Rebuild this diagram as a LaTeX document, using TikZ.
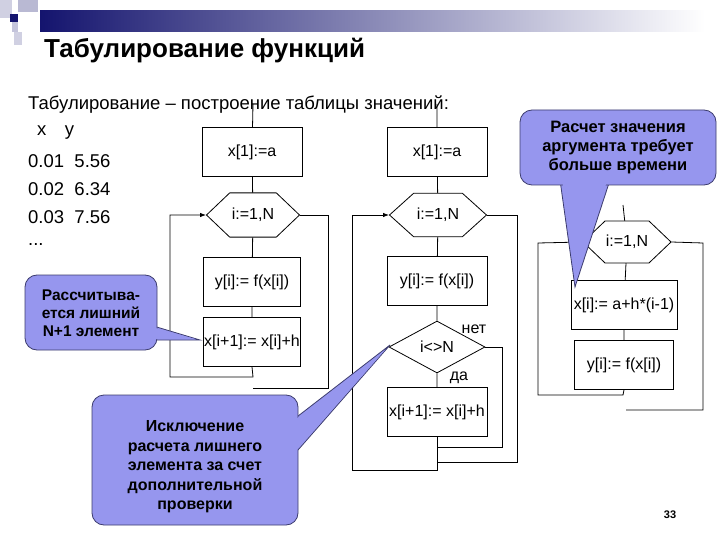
\documentclass[tikz,border=0pt]{standalone}
\usepackage{fontspec}
\setmainfont{Liberation Sans}
\usetikzlibrary{shapes.geometric,arrows.meta}
\definecolor{callfill}{RGB}{150,150,238}
\definecolor{callline}{RGB}{60,60,110}
\definecolor{navy}{RGB}{20,20,110}
\begin{document}
\begin{tikzpicture}[x=1pt,y=-1pt,
  ff/.style={font=\fontsize{16}{18}\selectfont},
  blk/.style={draw,line width=0.8pt,minimum width=100pt,minimum height=49pt,inner sep=1pt,ff},
  hex/.style={draw,line width=0.8pt,regular polygon,regular polygon sides=6,shape aspect=1,inner sep=0pt},
  dia/.style={draw,line width=0.8pt,diamond,aspect=1.9,minimum width=96pt,minimum height=52pt,inner sep=0pt},
  ln/.style={line width=0.8pt},
  body/.style={font=\fontsize{18.5}{21}\selectfont,inner sep=0pt,anchor=west},
  ctext/.style={align=center,text=black}]
\fill[white] (0,0) rectangle (720,540);
% header decoration
\shade[left color=navy,right color=white] (40,11) rectangle (705,32);
\fill[navy!20] (0,0) rectangle (12,18);
\fill[navy!30] (18,0) rectangle (38,12);
\fill[navy!25] (12,18) rectangle (18,32);
\fill[navy!20] (14,32) rectangle (22,45);
\fill[navy] (10,14) rectangle (18,22);
\node[anchor=west,font=\fontsize{26}{28}\selectfont\bfseries,inner sep=0pt] (title) at (44,51) {Табулирование функций};
% left text
\node[body] (t0) at (28,105) {Табулирование -- построение таблицы значений:};
\node[body] (t1) at (37,133) {x\quad y};
\node[body] (t2) at (28,161) {0.01\ \ 5.56};
\node[body] (t3) at (28,189) {0.02\ \ 6.34};
\node[body] (t4) at (28,217) {0.03\ \ 7.56};
\node[body] (t5) at (28,245) {...};
% flowchart 1
\coordinate (a0) at (253,104);
\node[blk] (a1) at (252,152) {x[1]:=a};
\node[hex,minimum width=93pt,yscale=0.55] (a2) at (253,215) {};
\node[ff] (a2t) at (253,215) {i:=1,N};
\node[blk,minimum width=97pt] (a3) at (252,282) {y[i]:= f(x[i])};
\node[blk,minimum width=97pt] (a4) at (252,342) {x[i+1]:= x[i]+h};
\draw[ln] (a0)--(a1)--(a2)--(a3)--(a4);
\coordinate (a5) at (253,377);
\draw[ln,-{Latex[length=6pt]}] (a4.south)--(a5)--(170,377)--(170,215)--(a2.west);
\draw[ln] (a2.east)--(328,215)--(328,388)--(253,388);
% flowchart 2
\coordinate (b0) at (437,104);
\node[blk] (b1) at (437,152) {x[1]:=a};
\node[hex,minimum width=97pt,yscale=0.52] (b2) at (438,215) {};
\node[ff] (b2t) at (438,215) {i:=1,N};
\node[blk] (b3) at (437,281) {y[i]:= f(x[i])};
\node[dia] (b4) at (437,347) {};
\node[ff] (b4t) at (437,347) {i<>N};
\node[blk] (b5) at (437,412) {x[i+1]:= x[i]+h};
\draw[ln] (b0)--(b1)--(b2)--(b3)--(b4)--(b5);
\node[ff] (net) at (474,329) {нет};
\node[ff] (da) at (459,378) {да};
\draw[ln] (b4.east)--(502,347)--(502,447)--(437,447)--(b5.south);
\draw[ln,-{Latex[length=6pt]}] (437,447)--(437,470)--(352,470)--(352,215)--(b2.west);
\draw[ln] (b2.east)--(517,215)--(517,462)--(437,462);
% flowchart 3
\coordinate (c0) at (623,205);
\node[hex,minimum width=88pt,yscale=0.55] (c1) at (627,242) {};
\node[ff] (c1t) at (627,242) {i:=1,N};
\node[blk,minimum width=106pt] (c2) at (624,305) {x[i]:= a+h*(i-1)};
\node[blk,minimum width=99pt] (c3) at (624,365) {y[i]:= f(x[i])};
\draw[ln] (c0)--(c1)--(c2)--(c3);
\draw[ln] (c3.south)--(623,395)--(538,395)--(538,243)--(c1.west);
\draw[ln] (c1.east)--(703,243)--(703,410)--(626,410);
% callouts
\newcommand\callout[3]{%
  \filldraw[fill=callfill,draw=callline,line width=0.8pt] #2;
  \filldraw[fill=callfill,draw=callline,line width=0.8pt,rounded corners=12pt] #1;
  \fill[callfill] #3;
}
\callout{(520,110) rectangle (716,185)}{(560,180)--(575,287)--(610,180)}{(562,178)--(575,280)--(608,178)--cycle}
\node[ctext,font=\fontsize{16.5}{19}\selectfont\bfseries] (k1) at (618,148) {Расчет значения\\аргумента требует\\больше времени};
\callout{(25,275) rectangle (157,350)}{(150,325)--(200,340)--(150,340)}{(148,326)--(195,339)--(148,339)--cycle}
\node[ctext,font=\fontsize{15.5}{18}\selectfont\bfseries] (k2) at (91,313) {Рассчитыва-\\ется лишний\\N+1 элемент};
\callout{(92,395) rectangle (298,525)}{(280,430)--(390,345)--(298,450)}{(282,430)--(385,350)--(296,451)--cycle}
\node[ctext,font=\fontsize{16}{19.5}\selectfont\bfseries] (k3) at (195,467) {Исключение\\расчета лишнего\\элемента за счет\\дополнительной\\проверки};
\node[font=\fontsize{11}{13}\selectfont\bfseries] (pg) at (670,515) {33};
\end{tikzpicture}
\end{document}
